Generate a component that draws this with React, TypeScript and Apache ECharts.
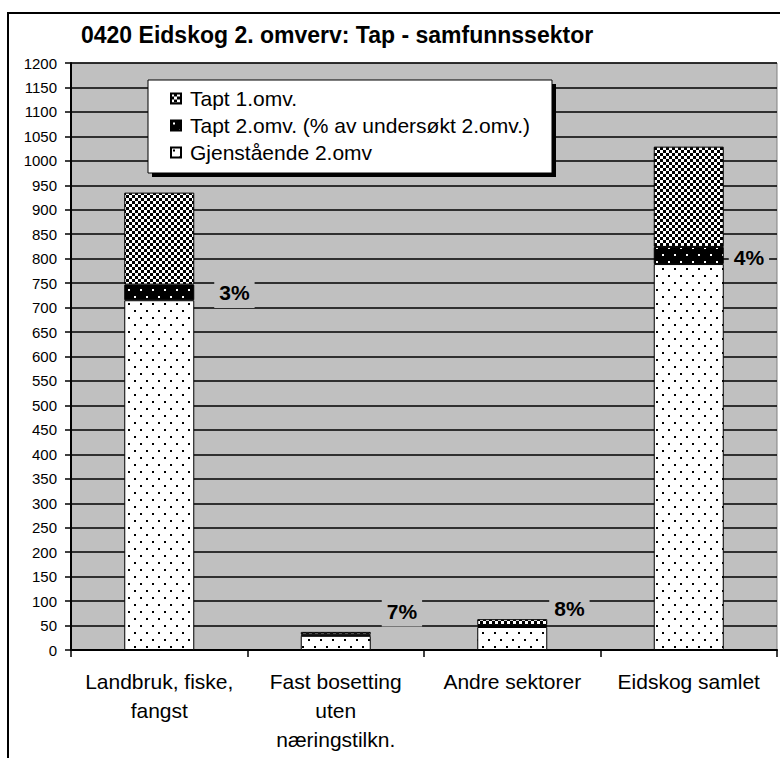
import React, { useEffect, useRef } from "react";
import * as echarts from "echarts";

const categories = [
  "Landbruk, fiske,\nfangst",
  "Fast bosetting\nuten\nnæringstilkn.",
  "Andre sektorer",
  "Eidskog samlet",
];
const seriesNames = [
  "Tapt 1.omv.",
  "Tapt 2.omv. (% av undersøkt 2.omv.)",
  "Gjenstående 2.omv",
];
const gjenstaende = [715, 29, 47, 789];
const tapt2 = [32, 3, 4, 35];
const tapt1 = [188, 5, 12, 205];
const pctLabels = ["3%", "7%", "8%", "4%"];
const yMin = 0;
const yMax = 1200;
const yStep = 50;

const FONT = "Liberation Sans, Arial, sans-serif";

function makePattern(w: number, h: number, bg: string, fg: string, rects: number[][]) {
  const c = document.createElement("canvas");
  c.width = w;
  c.height = h;
  const ctx = c.getContext("2d")!;
  ctx.fillStyle = bg;
  ctx.fillRect(0, 0, w, h);
  ctx.fillStyle = fg;
  rects.forEach((r) => ctx.fillRect(r[0], r[1], r[2], r[3]));
  return { image: c, repeat: "repeat", imageWidth: w, imageHeight: h } as any;
}

// label placement (style only)
const labelPlace = [
  { distance: 20, offset: [0, 0] },
  { distance: 11, offset: [0, -24] },
  { distance: 2, offset: [0, -18] },
  { distance: 5, offset: [0, 2] },
];

export default function App() {
  const ref = useRef<HTMLDivElement>(null);
  useEffect(() => {
    if (!ref.current) return;
    const chart = echarts.init(ref.current, undefined, { renderer: "svg" });
    const checker = makePattern(6, 6, "#000", "#fff", [
      [0, 0, 3, 3],
      [3, 3, 3, 3],
    ]);
    const blackDots = makePattern(12, 14, "#000", "#fff", [
      [2, 2, 2, 2],
      [8, 9, 2, 2],
    ]);
    const whiteDots = makePattern(12, 14, "#fff", "#000", [
      [2, 2, 2, 2],
      [8, 9, 2, 2],
    ]);
    const barCommon = {
      type: "bar",
      stack: "total",
      barWidth: 70,
    };
    chart.setOption({
      animation: false,
      backgroundColor: "#fff",
      title: {
        text: "0420 Eidskog 2. omverv: Tap - samfunnssektor",
        left: 76,
        top: 18,
        textStyle: { fontFamily: FONT, fontSize: 23, fontWeight: "bold", color: "#000" },
      },
      legend: {
        orient: "vertical",
        left: 148,
        top: 80,
        data: seriesNames,
        icon: "rect",
        itemWidth: 10,
        itemHeight: 10,
        itemGap: 6,
        padding: [8, 22, 10, 22],
        backgroundColor: "#fff",
        borderColor: "#000",
        borderWidth: 1,
        z: 5,
        textStyle: { fontFamily: FONT, fontSize: 21, color: "#000", padding: [0, 0, 0, 4] },
      },
      graphic: [
        {
          type: "rect",
          z: 3,
          shape: { x: 152, y: 84, width: 404, height: 93 },
          style: { fill: "#000" },
          silent: true,
        },
        {
          type: "rect",
          z: 10,
          shape: { x: 8, y: 13, width: 820, height: 820 },
          style: { fill: "none", stroke: "#000", lineWidth: 2 },
          silent: true,
        },
      ],
      grid: {
        left: 71,
        right: 3,
        top: 63,
        bottom: 108,
        show: true,
        backgroundColor: "#c0c0c0",
        borderColor: "#808080",
        borderWidth: 1,
        containLabel: false,
      },
      xAxis: {
        type: "category",
        data: categories,
        axisLine: { lineStyle: { color: "#000", width: 2 } },
        axisTick: { show: true, length: 7, lineStyle: { color: "#000", width: 1.5 } },
        axisLabel: {
          fontFamily: FONT,
          fontSize: 21,
          color: "#000",
          lineHeight: 29,
          margin: 17,
          interval: 0,
        },
      },
      yAxis: {
        type: "value",
        min: yMin,
        max: yMax,
        interval: yStep,
        axisLine: { show: true, lineStyle: { color: "#000", width: 2 } },
        axisTick: { show: true, length: 6, lineStyle: { color: "#000", width: 1.5 } },
        axisLabel: {
          fontFamily: FONT,
          fontSize: 15,
          color: "#000",
          margin: 14,
          formatter: (v: number) => String(v),
        },
        splitLine: { show: true, lineStyle: { color: "#000", width: 1.5 } },
      },
      series: [
        {
          ...barCommon,
          name: seriesNames[2],
          data: gjenstaende,
          itemStyle: { color: whiteDots, borderColor: "#000", borderWidth: 1 },
        },
        {
          ...barCommon,
          name: seriesNames[1],
          itemStyle: { color: blackDots, borderColor: "#000", borderWidth: 1 },
          data: tapt2.map((v, i) => ({
            value: v,
            label: {
              show: true,
              position: "right",
              distance: labelPlace[i].distance,
              offset: labelPlace[i].offset,
              formatter: pctLabels[i],
              fontFamily: FONT,
              fontSize: 21,
              fontWeight: "bold",
              color: "#000",
              backgroundColor: "#c0c0c0",
              padding: [5, 5, 5, 5],
            },
          })),
          z: 4,
        },
        {
          ...barCommon,
          name: seriesNames[0],
          data: tapt1,
          itemStyle: { color: checker, borderColor: "#000", borderWidth: 1 },
        },
      ],
    });
    return () => chart.dispose();
  }, []);
  return (
    <div
      ref={ref}
      style={{ position: "fixed", left: 0, top: 0, width: 780, height: 758 }}
    />
  );
}
